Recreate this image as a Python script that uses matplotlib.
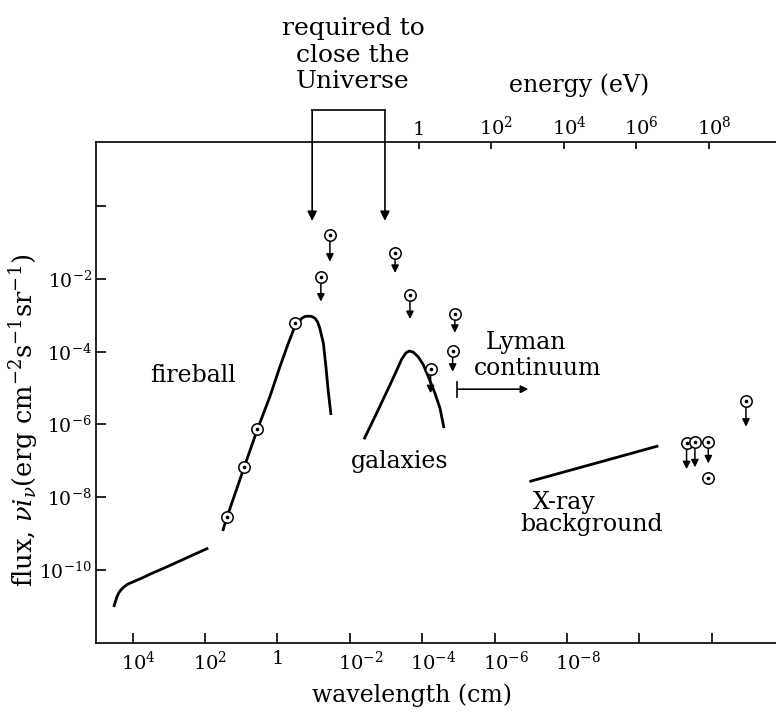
import numpy as np
import matplotlib
matplotlib.use('Agg')
import matplotlib.pyplot as plt
from matplotlib.transforms import ScaledTranslation

plt.rcParams['font.family'] = ['DejaVu Serif']
plt.rcParams['mathtext.fontset'] = 'dejavuserif'

# ---- data (log10 wavelength [cm], log10 flux) ----
radio_loglam = [4.52, 4.47, 4.43, 4.38, 4.32, 4.24, 4.16, 4.08, 3.99, 3.75, 3.52, 2.97, 2.42, 1.91]
radio_logflux = [-11.02, -10.86, -10.74, -10.63, -10.55, -10.47, -10.41, -10.37, -10.33,
                 -10.23, -10.12, -9.88, -9.63, -9.40]

fireball_loglam = [1.51, 1.40, 1.23, 1.04, 0.85, 0.55, 0.21, -0.07, -0.30, -0.48, -0.67,
                   -0.76, -0.85, -0.95, -1.04, -1.11, -1.17, -1.27, -1.34, -1.40, -1.48]
fireball_logflux = [-8.93, -8.57, -8.08, -7.53, -6.98, -6.13, -5.24, -4.41, -3.77, -3.31,
                    -3.08, -3.03, -3.02, -3.03, -3.08, -3.18, -3.35, -3.77, -4.41, -5.05, -5.74]

galaxies_loglam = [-2.39, -2.56, -2.74, -2.92, -3.11, -3.29, -3.43, -3.55, -3.64, -3.75,
                   -3.89, -4.03, -4.17, -4.35, -4.49, -4.60]
galaxies_logflux = [-6.41, -6.06, -5.69, -5.31, -4.91, -4.52, -4.21, -4.03, -3.98, -4.01,
                    -4.14, -4.36, -4.69, -5.14, -5.55, -6.10]

xray_loglam = [-6.96, -10.52]
xray_logflux = [-7.57, -6.59]

# measured points (no arrow)
meas_loglam = [1.39, 0.93, 0.55, -0.48, -11.90]
meas_logflux = [-8.55, -7.17, -6.13, -3.22, -7.46]

# upper limits: position and arrow end
ul_loglam = [-1.45, -1.20, -3.25, -3.66, -4.90, -4.84, -4.23, -11.30, -11.53, -11.90, -12.94]
ul_logflux = [-0.78, -1.94, -1.28, -2.44, -2.97, -3.97, -4.47, -6.52, -6.49, -6.49, -5.35]
ul_logend = [-1.52, -2.62, -1.83, -3.10, -3.48, -4.55, -5.14, -7.23, -7.18, -7.07, -6.06]

# "required to close the Universe" range
close_loglam = [-0.96, -2.97]
close_logtop = 2.65
close_logtip = -0.40

# Lyman continuum arrow
lyman_loglam = [-4.97, -6.93]
lyman_logflux = -5.03
lyman_bar_half = 0.21

bottom_tick_exp = [4, 2, 0, -2, -4, -6, -8, -10, -12]
bottom_tick_labels = [r'$10^{4}$', r'$10^{2}$', '1', r'$10^{-2}$', r'$10^{-4}$',
                      r'$10^{-6}$', r'$10^{-8}$', '', '']
left_tick_exp = [0, -2, -4, -6, -8, -10]
left_tick_labels = ['', r'$10^{-2}$', r'$10^{-4}$', r'$10^{-6}$', r'$10^{-8}$', r'$10^{-10}$']
top_tick_exp = [0, 2, 4, 6, 8]
top_tick_labels = ['1', r'$10^{2}$', r'$10^{4}$', r'$10^{6}$', r'$10^{8}$']
hc = 1.24e-4  # eV cm

W, H = 776, 712
fig = plt.figure(figsize=(W / 100, H / 100), dpi=100)
ax = fig.add_axes([96 / W, 1 - 643.3 / H, (W - 96) / W, (643.3 - 142) / H])
ax.set_xscale('log')
ax.set_yscale('log')
ax.set_xlim(10 ** 5.01, 10 ** -13.77)
ax.set_ylim(10 ** -12.02, 10 ** 1.77)
ax.spines['right'].set_visible(False)
for s in ['left', 'bottom', 'top']:
    ax.spines[s].set_linewidth(1.2)

P = lambda a: 10 ** np.asarray(a, dtype=float)

lw = 2.0
for lx, ly in [(radio_loglam, radio_logflux), (fireball_loglam, fireball_logflux),
               (galaxies_loglam, galaxies_logflux), (xray_loglam, xray_logflux)]:
    ax.plot(P(lx), P(ly), color='black', lw=lw, solid_capstyle='butt', solid_joinstyle='round')

# upper limit arrows
for lx, ly, le in zip(ul_loglam, ul_logflux, ul_logend):
    ax.annotate('', xy=(10 ** lx, 10 ** le), xytext=(10 ** lx, 10 ** ly),
                arrowprops=dict(arrowstyle='-|>', color='black', lw=1.1,
                                mutation_scale=11, shrinkA=4.0, shrinkB=0))

# circled-dot symbols
allx = P(meas_loglam + ul_loglam)
ally = P(meas_logflux + ul_logflux)
ax.plot(allx, ally, 'o', mfc='white', mec='black', ms=8.2, mew=1.1, zorder=5)
ax.plot(allx, ally, 'o', color='black', ms=1.6, zorder=6)

# "required to close the Universe" bracket
xl, xr = P(close_loglam)
ax.plot([xl, xr], [10 ** close_logtop] * 2, color='black', lw=1.2, clip_on=False)
for xv in (xl, xr):
    ax.annotate('', xy=(xv, 10 ** close_logtip), xytext=(xv, 10 ** close_logtop),
                arrowprops=dict(arrowstyle='-|>', color='black', lw=1.2,
                                mutation_scale=14, shrinkA=0, shrinkB=0),
                annotation_clip=False)
fig.text(353 / W, 1 - 55 / H, 'required to\nclose the\nUniverse', ha='center', va='center',
         fontsize=18, linespacing=1.2)

# Lyman continuum
lx0, lx1 = P(lyman_loglam)
ax.plot([lx0, lx0], P([lyman_logflux - lyman_bar_half, lyman_logflux + lyman_bar_half]),
        color='black', lw=1.2)
ax.annotate('', xy=(lx1, 10 ** lyman_logflux), xytext=(lx0, 10 ** lyman_logflux),
            arrowprops=dict(arrowstyle='-|>', color='black', lw=1.2,
                            mutation_scale=11, shrinkA=0, shrinkB=0))

# labels
tfs = 17
ax.text(10 ** 2.33, 10 ** -4.64, 'fireball', ha='center', va='center', fontsize=tfs)
ax.text(10 ** -3.38, 10 ** -7.03, 'galaxies', ha='center', va='center', fontsize=tfs)
ax.text(10 ** -6.86, 10 ** -3.74, 'Lyman', ha='center', va='center', fontsize=tfs)
ax.text(10 ** -7.19, 10 ** -4.47, 'continuum', ha='center', va='center', fontsize=tfs)
ax.text(10 ** -7.91, 10 ** -8.16, 'X-ray', ha='center', va='center', fontsize=tfs)
ax.text(10 ** -8.68, 10 ** -8.74, 'background', ha='center', va='center', fontsize=tfs)

# ticks
tls = 13.5
ax.set_xticks([10.0 ** k for k in bottom_tick_exp], bottom_tick_labels)
ax.set_yticks([10.0 ** k for k in left_tick_exp], left_tick_labels)
ax.minorticks_off()
ax.tick_params(axis='x', direction='in', length=7, width=1.2, labelsize=tls + 0.5, pad=5)
ax.tick_params(axis='y', direction='in', length=7.5, width=1.2, labelsize=tls, pad=3)

sec = ax.secondary_xaxis('top', functions=(lambda lam: hc / lam, lambda E: hc / E))
sec.set_xticks([10.0 ** k for k in top_tick_exp], top_tick_labels)
sec.minorticks_off()
sec.tick_params(direction='in', length=5, width=1.2, labelsize=tls + 0.5, pad=2)
sec.spines['top'].set_visible(False)

# put the "10" of each power label over its tick (exponent hangs to the right)
shift = ScaledTranslation(-12 / 100, 0, fig.dpi_scale_trans)
for lbl in list(ax.get_xticklabels()) + list(sec.get_xticklabels()):
    if lbl.get_text().startswith('$'):
        lbl.set_horizontalalignment('left')
        lbl.set_transform(lbl.get_transform() + shift)

fig.text(579 / W, 1 - 85 / H, 'energy (eV)', ha='center', va='center', fontsize=17)
fig.text(412 / W, 1 - 695 / H, 'wavelength (cm)', ha='center', va='center', fontsize=17)
fig.text(24 / W, 1 - 420 / H, r'flux, $\nu i_\nu$(erg cm$^{-2}$s$^{-1}$sr$^{-1}$)',
         ha='center', va='center', rotation=90, fontsize=18.5)

fig.savefig('out.png', dpi=100)
